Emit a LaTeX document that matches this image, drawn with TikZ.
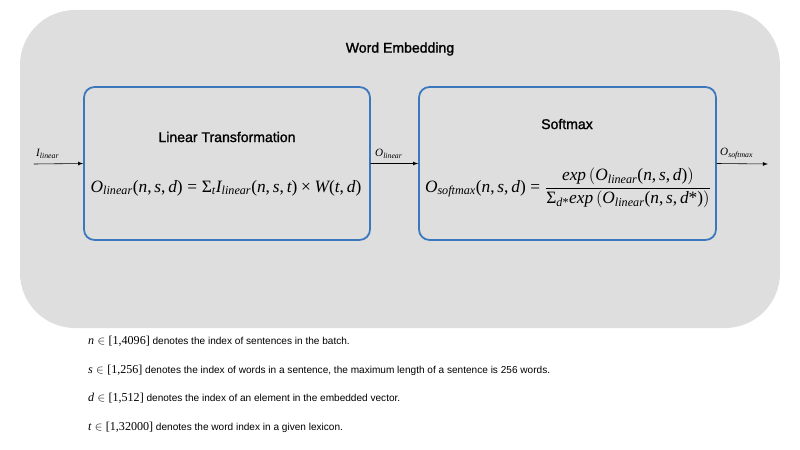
\documentclass[tikz,border=0pt]{standalone}
\usepackage{amsmath}
\usepackage[no-math]{fontspec}
\setmainfont{Liberation Sans}
\newfontfamily\medfont[FakeBold=1.4]{Liberation Sans}
\newfontfamily\serifmath[NFSSFamily=lserif]{Liberation Serif}
\usetikzlibrary{positioning}

% Times-like letters and digits in math
\DeclareSymbolFont{lsletters}{TU}{lserif}{m}{it}
\DeclareSymbolFont{lsoperators}{TU}{lserif}{m}{n}
\makeatletter
\count@=65
\loop
  \Umathcode\count@="7 \symlsletters \count@
  \advance\count@ 1
\ifnum\count@<91 \repeat
\count@=97
\loop
  \Umathcode\count@="7 \symlsletters \count@
  \advance\count@ 1
\ifnum\count@<123 \repeat
\count@=48
\loop
  \Umathcode\count@="7 \symlsoperators \count@
  \advance\count@ 1
\ifnum\count@<58 \repeat
\makeatother
\Umathcode`(="4 \symlsoperators `(
\Umathcode`)="5 \symlsoperators `)
\Umathcode`[="4 \symlsoperators `[
\Umathcode`]="5 \symlsoperators `]
\Umathcode`,="6 \symlsoperators `,
\Umathcode`=="3 \symlsoperators `=
\Umathcode`*="0 \symlsoperators `*
\Umathchardef\SumSign="0 \symlsoperators "03A3
\Umathchardef\TimesSign="2 \symlsoperators "00D7

\definecolor{panelgray}{HTML}{DEDEDE}
\definecolor{boxblue}{HTML}{3A77BC}

\newcommand{\rangemath}[1]{{\fontsize{10.3}{12}\selectfont$#1$}}

\tikzset{
  block/.style={draw=boxblue, line width=1.5pt, rounded corners=9pt,
    minimum height=4.59cm, inner sep=0pt},
  heading/.style={font=\medfont\fontsize{12}{14}\selectfont},
  eqn/.style={font=\fontsize{14.8}{17}\selectfont, inner sep=0pt},
  flow/.style={-latex, line width=0.5pt},
  sig/.style={font=\fontsize{9.5}{10}\selectfont, anchor=south west, inner sep=0pt},
  note/.style={anchor=west, font=\fontsize{8.6}{10}\selectfont, inner sep=0pt}
}

\begin{document}
\begin{tikzpicture}[x=0.03cm, y=-0.03cm, line join=round, line cap=round]
\useasboundingbox (0,0) rectangle (800,450);

% grey panel
\fill[panelgray, rounded corners=47pt] (20,10) rectangle (780,328);
\node[heading] (title) at (400,49) {Word Embedding};

% the two blocks
\node[block, minimum width=8.58cm] (linbox) at (227,163.5) {};
\node[block, minimum width=8.91cm] (softbox) at (567.5,163.5) {};

\node[heading] (lintitle) at (227,137) {Linear Transformation};
\node[heading] (softtitle) at (567,124) {Softmax};

\node[eqn] (lineq) at (226,188)
  {$O_{linear}(n,s,d)=\SumSign_t I_{linear}(n,s,t)\TimesSign W(t,d)$};
\node[eqn] (softeq) at (568,188)
  {$O_{softmax}(n,s,d)=\dfrac{exp\,\bigl(O_{linear}(n,s,d)\bigr)}{\SumSign_{d*}exp\,\bigl(O_{linear}(n,s,d*)\bigr)}$};

% signals
\coordinate (in) at (34,164);
\coordinate (out) at (768,164);
\draw[flow] (in) -- (linbox.west);
\draw[flow] (linbox.east) -- (softbox.west);
\draw[flow] (softbox.east) -- (out);
\node[sig] (ilin) at (36,159) {$I_{linear}$};
\node[sig] (olin) at (375,159) {$O_{linear}$};
\node[sig] (osoft) at (720,159) {$O_{softmax}$};

% index ranges
\node[note] (nn) at (88,341) {\rangemath{n\in[1{,}4096]} denotes the index of sentences in the batch.};
\node[note] (ns) at (88,370) {\rangemath{s\in[1{,}256]} denotes the index of words in a sentence, the maximum length of a sentence is 256 words.};
\node[note] (nd) at (88,398) {\rangemath{d\in[1{,}512]} denotes the index of an element in the embedded vector.};
\node[note] (nt) at (88,427) {\rangemath{t\in[1{,}32000]} denotes the word index in a given lexicon.};

\end{tikzpicture}
\end{document}
